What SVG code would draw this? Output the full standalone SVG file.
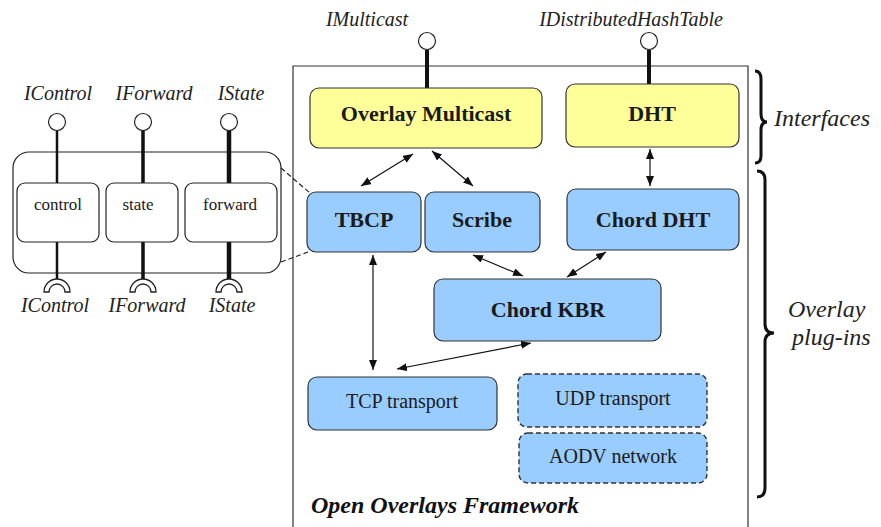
<svg xmlns="http://www.w3.org/2000/svg" width="881" height="527" viewBox="0 0 881 527">
  <style>
    .bg { fill: #ffffff; }
    .frame { fill: none; stroke: #333333; stroke-width: 1.2; }
    .iface { fill: #ffff99; stroke: #333333; stroke-width: 1.2; }
    .plug { fill: #99ccff; stroke: #333333; stroke-width: 1.2; }
    .plugd { fill: #99ccff; stroke: #333333; stroke-width: 1.4; stroke-dasharray: 5 3; }
    .comp { fill: #ffffff; stroke: #222222; stroke-width: 1.2; }
    .lbl { font-style: italic; font-size: 20px; fill: #222222; text-anchor: middle; }
    .side { font-style: italic; font-size: 24px; fill: #222222; }
    .big { font-weight: bold; font-size: 22px; fill: #1a1a1a; text-anchor: middle; }
    .mid { font-size: 20px; fill: #1a1a1a; text-anchor: middle; }
    .small { font-size: 17px; fill: #1a1a1a; text-anchor: middle; }
    .title { font-style: italic; font-weight: bold; font-size: 24px; fill: #111111; }
    .stem { stroke: #111111; fill: none; }
    .lolli { fill: #ffffff; stroke: #222222; stroke-width: 1.2; }
    .socket { fill: #ffffff; stroke: #222222; stroke-width: 1.3; }
    .conn { stroke: #111111; stroke-width: 1.2; fill: none; marker-start: url(#ah); marker-end: url(#ah); }
    .dash { stroke: #222222; stroke-width: 1.2; stroke-dasharray: 5 3; fill: none; }
    .brace { stroke: #111111; stroke-width: 3; fill: none; }
  </style>
  <defs>
    <marker id="ah" viewBox="0 0 10 8" refX="10" refY="4" markerWidth="10" markerHeight="8" markerUnits="userSpaceOnUse" orient="auto-start-reverse">
      <path d="M0,0 L10,4 L0,8 Z" fill="#111111"/>
    </marker>
  </defs>

  <rect class="bg" x="0" y="0" width="881" height="527"/>

  <!-- framework boundary -->
  <g id="framework">
    <path class="frame" d="M293 530 L293 66 L748 66 L748 530"/>
    <text class="title" font-family="'Liberation Serif', serif" x="311" y="513">Open Overlays Framework</text>
  </g>

  <!-- provided interfaces of the framework -->
  <g id="imulticast">
    <line class="stem" x1="427" y1="50" x2="427" y2="88" stroke-width="4"/>
    <circle class="lolli" cx="427" cy="41" r="8.5"/>
    <text class="lbl" font-family="'Liberation Serif', serif" x="367" y="26">IMulticast</text>
  </g>
  <g id="idht">
    <line class="stem" x1="649" y1="50" x2="649" y2="84" stroke-width="4"/>
    <circle class="lolli" cx="649" cy="41" r="8.5"/>
    <text class="lbl" font-family="'Liberation Serif', serif" x="631" y="26" font-size="21">IDistributedHashTable</text>
  </g>

  <!-- interface components -->
  <g id="overlay-multicast">
    <rect class="iface" x="310" y="88" width="232" height="60" rx="9"/>
    <text class="big" font-family="'Liberation Serif', serif" x="426" y="121">Overlay Multicast</text>
  </g>
  <g id="dht">
    <rect class="iface" x="566" y="84" width="173" height="63" rx="9"/>
    <text class="big" font-family="'Liberation Serif', serif" x="652" y="121">DHT</text>
  </g>

  <!-- plug-in components -->
  <g id="tbcp">
    <rect class="plug" x="307" y="192" width="114" height="60" rx="9"/>
    <text class="big" font-family="'Liberation Serif', serif" x="364" y="227">TBCP</text>
  </g>
  <g id="scribe">
    <rect class="plug" x="425" y="192" width="115" height="60" rx="9"/>
    <text class="big" font-family="'Liberation Serif', serif" x="482" y="227">Scribe</text>
  </g>
  <g id="chord-dht">
    <rect class="plug" x="567" y="189" width="172" height="61" rx="9"/>
    <text class="big" font-family="'Liberation Serif', serif" x="653" y="227">Chord DHT</text>
  </g>
  <g id="chord-kbr">
    <rect class="plug" x="434" y="279" width="227" height="62" rx="9"/>
    <text class="big" font-family="'Liberation Serif', serif" x="548" y="317">Chord KBR</text>
  </g>
  <g id="tcp-transport">
    <rect class="plug" x="308" y="377" width="189" height="53" rx="9"/>
    <text class="mid" font-family="'Liberation Serif', serif" x="402" y="408">TCP transport</text>
  </g>
  <g id="udp-transport">
    <rect class="plugd" x="518" y="374" width="189" height="53" rx="9"/>
    <text class="mid" font-family="'Liberation Serif', serif" x="613" y="405">UDP transport</text>
  </g>
  <g id="aodv-network">
    <rect class="plugd" x="519" y="433" width="188" height="50" rx="9"/>
    <text class="mid" font-family="'Liberation Serif', serif" x="613" y="463">AODV network</text>
  </g>

  <!-- internal structure of a plug-in -->
  <g id="plugin-detail">
    <rect class="comp" x="13" y="152" width="268" height="121" rx="16"/>
  </g>
  <g id="control">
    <line class="stem" x1="57" y1="130" x2="57" y2="183" stroke-width="2.5"/>
    <line class="stem" x1="57" y1="242" x2="57" y2="280" stroke-width="2.5"/>
    <circle class="lolli" cx="57" cy="122" r="8.5"/>
    <path class="socket" d="M44 292 A13 13 0 0 1 70 292 L65 292 A8 8 0 0 0 49 292 Z"/>
    <rect class="comp" x="17" y="183" width="82" height="59" rx="8"/>
    <text class="small" font-family="'Liberation Serif', serif" x="58" y="210">control</text>
    <text class="lbl" font-family="'Liberation Serif', serif" x="58" y="100">IControl</text>
    <text class="lbl" font-family="'Liberation Serif', serif" x="55" y="312">IControl</text>
  </g>
  <g id="state">
    <line class="stem" x1="143" y1="130" x2="143" y2="183" stroke-width="3.5"/>
    <line class="stem" x1="143" y1="242" x2="143" y2="280" stroke-width="3.5"/>
    <circle class="lolli" cx="143" cy="122" r="8.5"/>
    <path class="socket" d="M130 292 A13 13 0 0 1 156 292 L151 292 A8 8 0 0 0 135 292 Z"/>
    <rect class="comp" x="106" y="183" width="72" height="59" rx="8"/>
    <text class="small" font-family="'Liberation Serif', serif" x="138" y="210">state</text>
    <text class="lbl" font-family="'Liberation Serif', serif" x="154" y="100">IForward</text>
    <text class="lbl" font-family="'Liberation Serif', serif" x="147" y="312">IForward</text>
  </g>
  <g id="forward">
    <line class="stem" x1="229" y1="130" x2="229" y2="183" stroke-width="4.5"/>
    <line class="stem" x1="229" y1="242" x2="229" y2="280" stroke-width="4.5"/>
    <circle class="lolli" cx="229" cy="122" r="8.5"/>
    <path class="socket" d="M216 292 A13 13 0 0 1 242 292 L237 292 A8 8 0 0 0 221 292 Z"/>
    <rect class="comp" x="185" y="183" width="92" height="59" rx="8"/>
    <text class="small" font-family="'Liberation Serif', serif" x="230" y="210">forward</text>
    <text class="lbl" font-family="'Liberation Serif', serif" x="241" y="100">IState</text>
    <text class="lbl" font-family="'Liberation Serif', serif" x="232" y="312">IState</text>
  </g>

  <!-- connectors -->
  <g id="connectors">
    <line class="dash" x1="281" y1="168" x2="310" y2="193"/>
    <line class="dash" x1="281" y1="262" x2="308" y2="252"/>
    <line class="conn" x1="413" y1="154" x2="361" y2="186"/>
    <line class="conn" x1="432" y1="151" x2="473" y2="186"/>
    <line class="conn" x1="650" y1="149" x2="650" y2="186"/>
    <line class="conn" x1="473" y1="255" x2="523" y2="276"/>
    <line class="conn" x1="606" y1="252" x2="567" y2="277"/>
    <line class="conn" x1="373" y1="255" x2="373" y2="370"/>
    <line class="conn" x1="531" y1="343" x2="397" y2="369"/>
  </g>

  <!-- layer braces -->
  <g id="interfaces-brace">
    <path class="brace" d="M755 71 Q761 71 761 79 L761 114 Q761 122 767 122 Q761 122 761 130 L761 156 Q761 163 755 163"/>
    <text class="side" font-family="'Liberation Serif', serif" x="774" y="126">Interfaces</text>
  </g>
  <g id="plugins-brace">
    <path class="brace" d="M757 171 Q765 171 765 180 L765 324 Q765 333 774 333 Q765 333 765 342 L765 488 Q765 497 757 497"/>
    <text class="side" font-family="'Liberation Serif', serif" x="788" y="317">Overlay</text>
    <text class="side" font-family="'Liberation Serif', serif" x="792" y="345">plug-ins</text>
  </g>
</svg>
